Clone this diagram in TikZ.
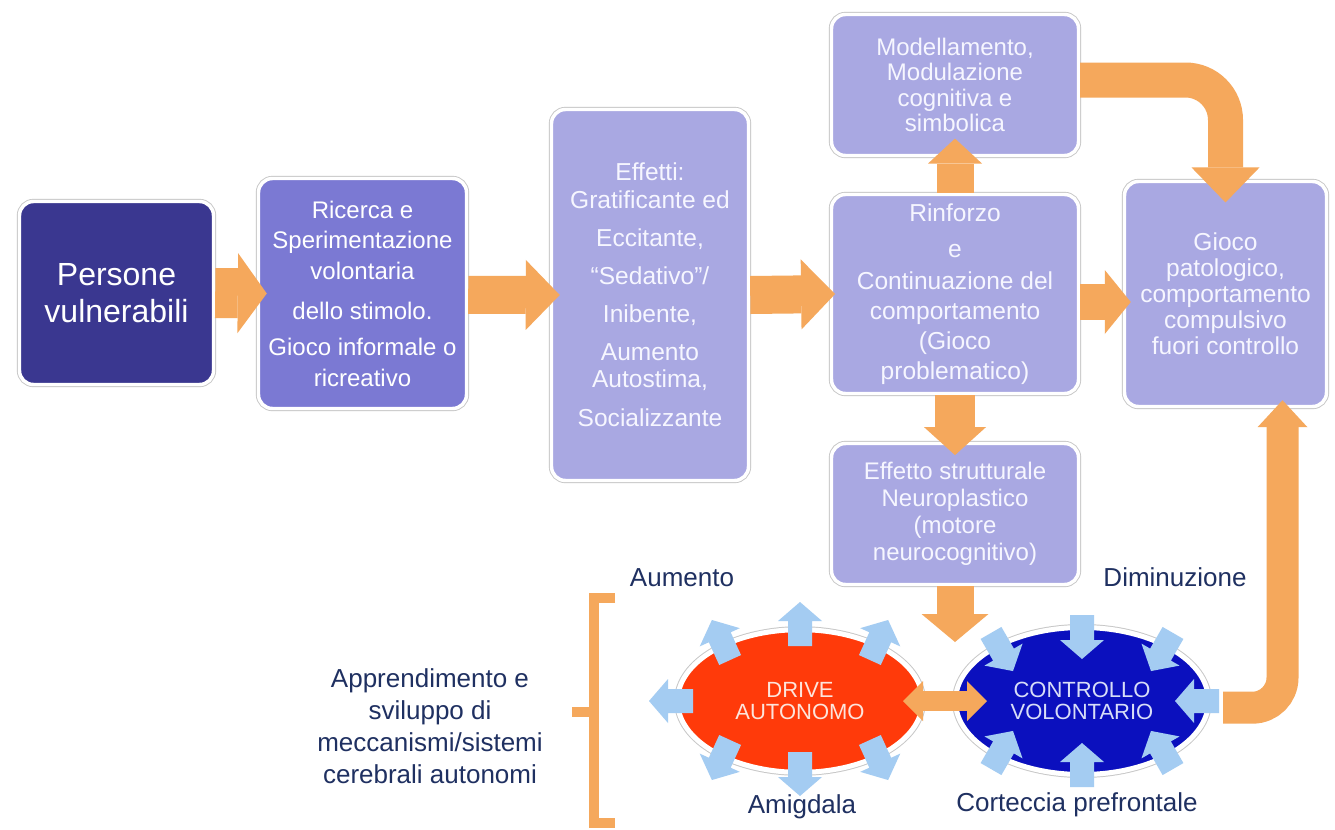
\documentclass[tikz,border=0pt]{standalone}
\usepackage{fontspec}
\setmainfont{Liberation Sans}
\usetikzlibrary{arrows.meta,shapes.geometric,shadows,calc}
\definecolor{orangeA}{HTML}{F5A85C}
\definecolor{navyBox}{HTML}{3A3790}
\definecolor{midBox}{HTML}{7B79D3}
\definecolor{lightBox}{HTML}{A9A8E2}
\definecolor{redE}{HTML}{FF3A0A}
\definecolor{blueE}{HTML}{0B10BE}
\definecolor{skyA}{HTML}{A4CCF2}
\definecolor{labelC}{HTML}{1F3061}
\definecolor{boxText}{HTML}{F6F6FF}
\tikzset{
  box/.style={draw=white, line width=2.6pt, rounded corners=10.5pt, align=center,
    text=boxText, inner sep=0pt,
    drop shadow={shadow xshift=1pt, shadow yshift=-1.2pt, opacity=0.3, fill=black!70},
    preaction={draw=black!22, line width=4pt}},
  ell/.style={ellipse, draw=white, line width=3.75pt, align=center, inner sep=0pt,
    font=\fontsize{16.5}{16.5}\selectfont,
    drop shadow={shadow xshift=1pt, shadow yshift=-1.2pt, opacity=0.3, fill=black!70},
    preaction={draw=black!22, line width=5.2pt}},
  orr/.style args={#1/#2/#3}{draw=orangeA, line width=#1,
    -{Triangle[width=#2, length=#3, line width=0pt]}},
  darr/.style={draw=orangeA, line width=15pt,
    {Triangle[width=30pt, length=15pt, line width=0pt]}-{Triangle[width=30pt, length=15pt, line width=0pt]}},
  lab/.style={text=labelC, font=\fontsize{19.5}{24}\selectfont, align=center, inner sep=0pt},
  sarr/.pic={\fill[skyA] (-22,-12) -- (3,-12) -- (3,-22) -- (22,0) -- (3,22) -- (3,12) -- (-22,12) -- cycle;}
}
\begin{document}
\begin{tikzpicture}[x=0.75pt,y=-0.75pt]
\fill[white] (0,0) rectangle (1335,829);
\useasboundingbox (0,0) rectangle (1335,829);

% boxes
\node[box, fill=navyBox, text=white, minimum width=145.5pt, minimum height=137.25pt,
  font=\fontsize{24}{27.5}\selectfont] (persone) at (116.5,293) {Persone\\vulnerabili};
\node[box, fill=midBox, text=white, minimum width=156pt, minimum height=172.5pt,
  font=\fontsize{18}{23}\selectfont] (ricerca) at (362.5,293.5)
  {Ricerca e\\Sperimentazione\\volontaria\\[7pt]dello stimolo.\\[4pt]Gioco informale o\\ricreativo};
\node[box, fill=lightBox, minimum width=147.75pt, minimum height=278.25pt,
  font=\fontsize{18.4}{20.6}\selectfont] (effetti) at (650,295)
  {Effetti:\\Gratificante ed\\[8pt]Eccitante,\\[8pt]“Sedativo”/\\[7.5pt]Inibente,\\[8pt]Aumento\\Autostima,\\[8.5pt]Socializzante};
\node[box, fill=lightBox, minimum width=185.25pt, minimum height=105.75pt,
  font=\fontsize{18}{19}\selectfont] (modell) at (955,85)
  {Modellamento,\\Modulazione\\cognitiva e\\simbolica};
\node[box, fill=lightBox, minimum width=185.25pt, minimum height=149.25pt,
  font=\fontsize{18.4}{22.5}\selectfont] (rinforzo) at (955,294)
  {Rinforzo\\[4.5pt]e\\[1.5pt]Continuazione del\\comportamento\\(Gioco\\problematico)};
\node[box, fill=lightBox, minimum width=151.5pt, minimum height=168.75pt,
  font=\fontsize{18.4}{19.5}\selectfont] (gioco) at (1225.5,294)
  {Gioco\\patologico,\\comportamento\\compulsivo\\fuori controllo};
\node[box, fill=lightBox, minimum width=185.25pt, minimum height=105.75pt,
  font=\fontsize{18}{20.25}\selectfont] (effstr) at (955,514)
  {Effetto strutturale\\Neuroplastico\\(motore\\neurocognitivo)};

% ellipses
\node[ell, fill=redE, text={rgb,255:red,253;green,228;blue,220}, minimum width=183.75pt, minimum height=107pt]
  (red) at (800,701) {DRIVE\\AUTONOMO};
\node[ell, fill=blueE, text={rgb,255:red,216;green,222;blue,248}, minimum width=189.75pt, minimum height=110.25pt]
  (blue) at (1082,701) {CONTROLLO\\VOLONTARIO};

% labels
\node[lab] (aumento) at (682,578) {Aumento};
\node[lab] (diminuz) at (1175,577) {Diminuzione};
\node[lab] (amig) at (802,807) {Amigdala};
\node[lab] (cortec) at (1077,805) {Corteccia prefrontale};
\node[lab] (appr) at (430,726) {Apprendimento e\\sviluppo di\\meccanismi/sistemi\\cerebrali autonomi};

% bracket
\draw[orangeA, line width=7.5pt] (615,598) -- (594,598) -- (594,823) -- (615,823);
\draw[orangeA, line width=7.5pt] (594,712) -- (572,712);

% orange connectors
\draw[orr={37.5pt/60pt/21.75pt}] (persone.east) -- ([xshift=7.5pt]ricerca.west);
\draw[orr={28.5pt/52.5pt/25.5pt}] ([yshift=-1pt]ricerca.east) -- ([xshift=7.5pt]effetti.west);
\draw[orr={28.5pt/52.5pt/25.5pt}] (effetti.east) -- ([xshift=4pt]rinforzo.west);
\draw[orr={27pt/48pt/19.5pt}] ([yshift=-6pt]rinforzo.east) -- ([yshift=-6pt,xshift=6pt]gioco.west);
\draw[orr={27.75pt/40.5pt/18.75pt}] (rinforzo.north) -- ([yshift=14pt]modell.south);
\draw[orr={30pt/46.5pt/21pt}] (rinforzo.south) -- ([yshift=-10pt]effstr.north);
\coordinate (blueIn) at (955,642);
\draw[orr={27.75pt/50.25pt/21pt}] (effstr.south) -- (blueIn);
\draw[orr={26.25pt/51pt/26.25pt}, rounded corners=30pt]
  ([yshift=3.75pt]modell.east) -| ([yshift=-17pt]gioco.north);
\draw[orr={24pt/37.5pt/20.25pt}, rounded corners=22.5pt]
  ([xshift=9pt,yshift=-5pt]blue.east) -| ([xshift=42.75pt,yshift=6pt]gioco.south);
\draw[darr] ([xshift=77.25pt]red.center) -- ([xshift=-71.25pt]blue.center);

% small arrows: red (outward)
\pic[rotate=90] at (800,624) {sarr};
\pic[rotate=65.5] at (879,640) {sarr};
\pic[rotate=114.5] at (721,640) {sarr};
\pic[rotate=180] at (671,701) {sarr};
\pic[rotate=245.5] at (721,760) {sarr};
\pic[rotate=270] at (800,774) {sarr};
\pic[rotate=294.5] at (879,760) {sarr};
% small arrows: blue (inward)
\pic[rotate=270] at (1082,637) {sarr};
\pic[rotate=240] at (1162,652) {sarr};
\pic[rotate=300] at (1002,652) {sarr};
\pic[rotate=180] at (1197,701) {sarr};
\pic[rotate=60] at (1002,750) {sarr};
\pic[rotate=90] at (1082,765) {sarr};
\pic[rotate=120] at (1162,750) {sarr};
\end{tikzpicture}
\end{document}
